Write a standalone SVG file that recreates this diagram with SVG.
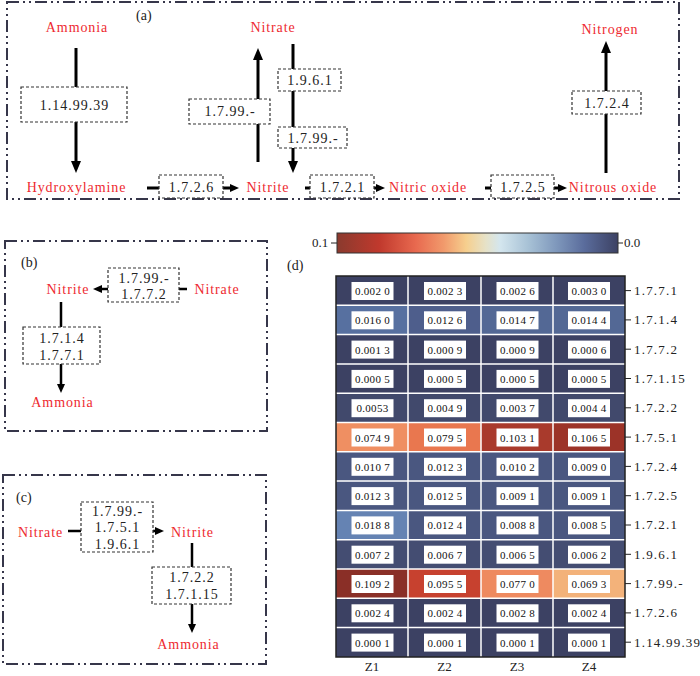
<svg xmlns="http://www.w3.org/2000/svg" width="700" height="676" viewBox="0 0 700 676">
<defs>
<style>
.frame{fill:none;stroke:#36364a;stroke-width:2;stroke-dasharray:12 4 2 4 2 4}
.lbl{font-family:"Liberation Serif","Times New Roman",serif;font-size:14px;fill:#ee2a30;letter-spacing:0.9px;text-anchor:middle}
.ec{font-family:"Liberation Serif","Times New Roman",serif;font-size:14px;fill:#222;letter-spacing:1px;text-anchor:middle}
.eb{fill:#fff;stroke:#333;stroke-width:1.2;stroke-dasharray:3 2}
.pl{font-family:"Liberation Serif","Times New Roman",serif;font-size:14px;fill:#222}
.big{stroke:#000;stroke-width:3;fill:none}
.thin{stroke:#000;stroke-width:2.5;fill:none}
.cv{font-family:"Liberation Serif","Times New Roman",serif;font-size:11px;fill:#111;letter-spacing:0.3px;text-anchor:middle}
.cb{fill:#fff}
.rl{font-family:"Liberation Serif","Times New Roman",serif;font-size:13px;fill:#222;letter-spacing:1.2px}
.grid{stroke:#fff;stroke-width:1.5}
.tk{stroke:#222;stroke-width:1}
</style>
<marker id="ah" viewBox="0 0 12 10" refX="3" refY="5" markerWidth="12" markerHeight="10" markerUnits="userSpaceOnUse" orient="auto"><path d="M0,0 L12,5 L0,10 z" fill="#000"/></marker>
<marker id="as" viewBox="0 0 9 8" refX="2" refY="4" markerWidth="9" markerHeight="8" markerUnits="userSpaceOnUse" orient="auto"><path d="M0,0 L9,4 L0,8 z" fill="#000"/></marker>
<linearGradient id="cmap" x1="0" y1="0" x2="1" y2="0">
<stop offset="0" stop-color="#8a3a2e"/>
<stop offset="0.15" stop-color="#c0392d"/>
<stop offset="0.28" stop-color="#e8694f"/>
<stop offset="0.38" stop-color="#f19a6c"/>
<stop offset="0.46" stop-color="#f6cf8e"/>
<stop offset="0.53" stop-color="#e6e2c8"/>
<stop offset="0.58" stop-color="#d4e6ee"/>
<stop offset="0.68" stop-color="#a8c2d6"/>
<stop offset="0.78" stop-color="#7f98bc"/>
<stop offset="0.88" stop-color="#5a6c9c"/>
<stop offset="1" stop-color="#3c4163"/>
</linearGradient>
</defs>
<rect width="700" height="676" fill="#fff"/>

<!-- frames -->
<rect class="frame" x="7" y="2" width="672" height="197"/>
<rect class="frame" x="5" y="241" width="262" height="190"/>
<rect class="frame" x="3" y="475" width="263" height="189"/>
<text class="pl" x="136" y="20">(a)</text>
<text class="pl" x="21" y="267">(b)</text>
<text class="pl" x="16" y="502">(c)</text>
<text class="pl" x="287" y="270">(d)</text>

<!-- connectors -->
<g id="connectors">
<line class="big" x1="76" y1="48" x2="76" y2="164" marker-end="url(#ah)"/>
<line class="big" x1="258" y1="162" x2="258" y2="57" marker-end="url(#ah)"/>
<line class="big" x1="293" y1="44" x2="293" y2="164" marker-end="url(#ah)"/>
<line class="big" x1="606" y1="173" x2="606" y2="50" marker-end="url(#ah)"/>
<line class="big" x1="147" y1="188" x2="232" y2="188" marker-end="url(#as)"/>
<line class="big" x1="305" y1="188" x2="378" y2="188" marker-end="url(#as)"/>
<line class="big" x1="485" y1="188" x2="560" y2="188" marker-end="url(#as)"/>
<line class="thin" x1="187" y1="289" x2="100" y2="289" marker-end="url(#as)"/>
<line class="thin" x1="61" y1="302" x2="61" y2="386" marker-end="url(#as)"/>
<line class="thin" x1="68" y1="531" x2="157" y2="531" marker-end="url(#as)"/>
<line class="thin" x1="192" y1="543" x2="192" y2="626" marker-end="url(#as)"/>
</g>

<!-- panel a nodes -->
<g id="a-ammonia"><text class="lbl" x="77" y="32">Ammonia</text></g>
<g id="a-hydroxylamine"><text class="lbl" x="76.5" y="192">Hydroxylamine</text></g>
<g id="a-nitrate"><text class="lbl" x="273" y="32">Nitrate</text></g>
<g id="a-nitrite"><text class="lbl" x="268" y="192">Nitrite</text></g>
<g id="a-nitricoxide"><text class="lbl" x="428" y="192">Nitric oxide</text></g>
<g id="a-nitrousoxide"><text class="lbl" x="613" y="192">Nitrous oxide</text></g>
<g id="a-nitrogen"><text class="lbl" x="610" y="34">Nitrogen</text></g>
<g id="a-e1"><rect class="eb" x="21" y="87" width="106" height="35"/><text class="ec" x="74.5" y="110">1.14.99.39</text></g>
<g id="a-e2"><rect class="eb" x="189" y="99" width="81" height="25"/><text class="ec" x="230" y="116">1.7.99.-</text></g>
<g id="a-e3"><rect class="eb" x="278" y="69" width="63" height="22"/><text class="ec" x="310" y="85">1.9.6.1</text></g>
<g id="a-e4"><rect class="eb" x="278" y="127" width="69" height="21"/><text class="ec" x="313" y="143">1.7.99.-</text></g>
<g id="a-e5"><rect class="eb" x="159" y="175" width="64" height="23"/><text class="ec" x="191.5" y="192">1.7.2.6</text></g>
<g id="a-e6"><rect class="eb" x="310" y="175" width="64" height="23"/><text class="ec" x="342.5" y="192">1.7.2.1</text></g>
<g id="a-e7"><rect class="eb" x="491" y="175" width="63" height="23"/><text class="ec" x="523" y="192">1.7.2.5</text></g>
<g id="a-e8"><rect class="eb" x="572" y="91" width="69" height="23"/><text class="ec" x="607" y="108">1.7.2.4</text></g>

<!-- panel b nodes -->
<g id="b-nitrite"><text class="lbl" x="68" y="294">Nitrite</text></g>
<g id="b-nitrate"><text class="lbl" x="217" y="294">Nitrate</text></g>
<g id="b-ammonia"><text class="lbl" x="62.5" y="407">Ammonia</text></g>
<g id="b-e1"><rect class="eb" x="108" y="268" width="71" height="34"/><text class="ec" x="144" y="283">1.7.99.-</text><text class="ec" x="144" y="299">1.7.7.2</text></g>
<g id="b-e2"><rect class="eb" x="23" y="327" width="77" height="37"/><text class="ec" x="62" y="343">1.7.1.4</text><text class="ec" x="62" y="360">1.7.7.1</text></g>

<!-- panel c nodes -->
<g id="c-nitrate"><text class="lbl" x="40.5" y="537">Nitrate</text></g>
<g id="c-nitrite"><text class="lbl" x="192.5" y="537">Nitrite</text></g>
<g id="c-ammonia"><text class="lbl" x="188.5" y="649">Ammonia</text></g>
<g id="c-e1"><rect class="eb" x="81" y="502" width="72" height="50"/><text class="ec" x="117.5" y="516">1.7.99.-</text><text class="ec" x="117.5" y="532">1.7.5.1</text><text class="ec" x="117.5" y="549">1.9.6.1</text></g>
<g id="c-e2"><rect class="eb" x="152" y="567" width="79" height="37"/><text class="ec" x="192" y="582">1.7.2.2</text><text class="ec" x="192" y="599">1.7.1.15</text></g>

<!-- panel d -->
<g id="colorbar">
<rect x="337" y="233" width="281" height="20" fill="url(#cmap)" stroke="#333" stroke-width="1"/>
<line class="tk" x1="331" y1="243" x2="337" y2="243"/>
<line class="tk" x1="618" y1="243" x2="623" y2="243"/>
<text class="pl" x="312" y="247" style="font-size:13px">0.1</text>
<text class="pl" x="624" y="247" style="font-size:13px">0.0</text>
</g>

<g id="heatmap">
<rect x="336" y="276" width="289" height="29.3" fill="#3c4163"/>
<rect x="336" y="305.3" width="72" height="29.3" fill="#5770a0"/>
<rect x="408" y="305.3" width="73" height="29.3" fill="#4e5e8c"/>
<rect x="481" y="305.3" width="144" height="29.3" fill="#536895"/>
<rect x="336" y="334.6" width="289" height="58.6" fill="#3c4163"/>
<rect x="336" y="393.2" width="289" height="29.3" fill="#41496c"/>
<rect x="336" y="422.5" width="72" height="29.3" fill="#ef8f62"/>
<rect x="408" y="422.5" width="73" height="29.3" fill="#e9774f"/>
<rect x="481" y="422.5" width="72" height="29.3" fill="#a93a2c"/>
<rect x="553" y="422.5" width="72" height="29.3" fill="#9c3328"/>
<rect x="336" y="451.8" width="289" height="29.3" fill="#4a5780"/>
<rect x="336" y="481.1" width="289" height="29.3" fill="#4a5780"/>
<rect x="336" y="510.4" width="72" height="29.3" fill="#6583b3"/>
<rect x="408" y="510.4" width="217" height="29.3" fill="#4a5780"/>
<rect x="336" y="539.7" width="289" height="29.3" fill="#444d72"/>
<rect x="336" y="569" width="72" height="29.3" fill="#8a2f27"/>
<rect x="408" y="569" width="73" height="29.3" fill="#c7412f"/>
<rect x="481" y="569" width="72" height="29.3" fill="#ee8a60"/>
<rect x="553" y="569" width="72" height="29.3" fill="#f3b27a"/>
<rect x="336" y="598.3" width="289" height="58.7" fill="#3c4163"/>
<g class="grid">
<line x1="408" y1="276" x2="408" y2="657"/><line x1="481" y1="276" x2="481" y2="657"/><line x1="553" y1="276" x2="553" y2="657"/>
<line x1="336" y1="305.3" x2="625" y2="305.3"/><line x1="336" y1="334.6" x2="625" y2="334.6"/><line x1="336" y1="363.9" x2="625" y2="363.9"/>
<line x1="336" y1="393.2" x2="625" y2="393.2"/><line x1="336" y1="422.5" x2="625" y2="422.5"/><line x1="336" y1="451.8" x2="625" y2="451.8"/>
<line x1="336" y1="481.1" x2="625" y2="481.1"/><line x1="336" y1="510.4" x2="625" y2="510.4"/><line x1="336" y1="539.7" x2="625" y2="539.7"/>
<line x1="336" y1="569" x2="625" y2="569"/><line x1="336" y1="598.3" x2="625" y2="598.3"/><line x1="336" y1="627.6" x2="625" y2="627.6"/>
</g>
<rect x="336" y="276" width="289" height="381" fill="none" stroke="#222" stroke-width="1.5"/>

<g id="cells">
<g class="cb">
<rect x="351.5" y="282" width="42" height="18"/><rect x="424" y="282" width="42" height="18"/><rect x="496.5" y="282" width="42" height="18"/><rect x="568" y="282" width="42" height="18"/>
<rect x="351.5" y="311.3" width="42" height="18"/><rect x="424" y="311.3" width="42" height="18"/><rect x="496.5" y="311.3" width="42" height="18"/><rect x="568" y="311.3" width="42" height="18"/>
<rect x="351.5" y="340.6" width="42" height="18"/><rect x="424" y="340.6" width="42" height="18"/><rect x="496.5" y="340.6" width="42" height="18"/><rect x="568" y="340.6" width="42" height="18"/>
<rect x="351.5" y="369.9" width="42" height="18"/><rect x="424" y="369.9" width="42" height="18"/><rect x="496.5" y="369.9" width="42" height="18"/><rect x="568" y="369.9" width="42" height="18"/>
<rect x="351.5" y="399.2" width="42" height="18"/><rect x="424" y="399.2" width="42" height="18"/><rect x="496.5" y="399.2" width="42" height="18"/><rect x="568" y="399.2" width="42" height="18"/>
<rect x="351.5" y="428.5" width="42" height="18"/><rect x="424" y="428.5" width="42" height="18"/><rect x="496.5" y="428.5" width="42" height="18"/><rect x="568" y="428.5" width="42" height="18"/>
<rect x="351.5" y="457.8" width="42" height="18"/><rect x="424" y="457.8" width="42" height="18"/><rect x="496.5" y="457.8" width="42" height="18"/><rect x="568" y="457.8" width="42" height="18"/>
<rect x="351.5" y="487.1" width="42" height="18"/><rect x="424" y="487.1" width="42" height="18"/><rect x="496.5" y="487.1" width="42" height="18"/><rect x="568" y="487.1" width="42" height="18"/>
<rect x="351.5" y="516.4" width="42" height="18"/><rect x="424" y="516.4" width="42" height="18"/><rect x="496.5" y="516.4" width="42" height="18"/><rect x="568" y="516.4" width="42" height="18"/>
<rect x="351.5" y="545.7" width="42" height="18"/><rect x="424" y="545.7" width="42" height="18"/><rect x="496.5" y="545.7" width="42" height="18"/><rect x="568" y="545.7" width="42" height="18"/>
<rect x="351.5" y="575" width="42" height="18"/><rect x="424" y="575" width="42" height="18"/><rect x="496.5" y="575" width="42" height="18"/><rect x="568" y="575" width="42" height="18"/>
<rect x="351.5" y="604.3" width="42" height="18"/><rect x="424" y="604.3" width="42" height="18"/><rect x="496.5" y="604.3" width="42" height="18"/><rect x="568" y="604.3" width="42" height="18"/>
<rect x="351.5" y="633.6" width="42" height="18"/><rect x="424" y="633.6" width="42" height="18"/><rect x="496.5" y="633.6" width="42" height="18"/><rect x="568" y="633.6" width="42" height="18"/>
</g>
<g class="cv">
<text x="372.5" y="295">0.002 0</text><text x="445" y="295">0.002 3</text><text x="517.5" y="295">0.002 6</text><text x="589" y="295">0.003 0</text>
<text x="372.5" y="324.3">0.016 0</text><text x="445" y="324.3">0.012 6</text><text x="517.5" y="324.3">0.014 7</text><text x="589" y="324.3">0.014 4</text>
<text x="372.5" y="353.6">0.001 3</text><text x="445" y="353.6">0.000 9</text><text x="517.5" y="353.6">0.000 9</text><text x="589" y="353.6">0.000 6</text>
<text x="372.5" y="382.9">0.000 5</text><text x="445" y="382.9">0.000 5</text><text x="517.5" y="382.9">0.000 5</text><text x="589" y="382.9">0.000 5</text>
<text x="372.5" y="412.2">0.0053</text><text x="445" y="412.2">0.004 9</text><text x="517.5" y="412.2">0.003 7</text><text x="589" y="412.2">0.004 4</text>
<text x="372.5" y="441.5">0.074 9</text><text x="445" y="441.5">0.079 5</text><text x="517.5" y="441.5">0.103 1</text><text x="589" y="441.5">0.106 5</text>
<text x="372.5" y="470.8">0.010 7</text><text x="445" y="470.8">0.012 3</text><text x="517.5" y="470.8">0.010 2</text><text x="589" y="470.8">0.009 0</text>
<text x="372.5" y="500.1">0.012 3</text><text x="445" y="500.1">0.012 5</text><text x="517.5" y="500.1">0.009 1</text><text x="589" y="500.1">0.009 1</text>
<text x="372.5" y="529.4">0.018 8</text><text x="445" y="529.4">0.012 4</text><text x="517.5" y="529.4">0.008 8</text><text x="589" y="529.4">0.008 5</text>
<text x="372.5" y="558.7">0.007 2</text><text x="445" y="558.7">0.006 7</text><text x="517.5" y="558.7">0.006 5</text><text x="589" y="558.7">0.006 2</text>
<text x="372.5" y="588">0.109 2</text><text x="445" y="588">0.095 5</text><text x="517.5" y="588">0.077 0</text><text x="589" y="588">0.069 3</text>
<text x="372.5" y="617.3">0.002 4</text><text x="445" y="617.3">0.002 4</text><text x="517.5" y="617.3">0.002 8</text><text x="589" y="617.3">0.002 4</text>
<text x="372.5" y="646.6">0.000 1</text><text x="445" y="646.6">0.000 1</text><text x="517.5" y="646.6">0.000 1</text><text x="589" y="646.6">0.000 1</text>
</g>
</g>

<g id="rowlabels">
<g class="tk">
<line x1="625" y1="290.6" x2="631" y2="290.6"/><line x1="625" y1="319.9" x2="631" y2="319.9"/><line x1="625" y1="349.2" x2="631" y2="349.2"/><line x1="625" y1="378.5" x2="631" y2="378.5"/><line x1="625" y1="407.8" x2="631" y2="407.8"/><line x1="625" y1="437.1" x2="631" y2="437.1"/><line x1="625" y1="466.4" x2="631" y2="466.4"/><line x1="625" y1="495.7" x2="631" y2="495.7"/><line x1="625" y1="525" x2="631" y2="525"/><line x1="625" y1="554.3" x2="631" y2="554.3"/><line x1="625" y1="583.6" x2="631" y2="583.6"/><line x1="625" y1="612.9" x2="631" y2="612.9"/><line x1="625" y1="642.2" x2="631" y2="642.2"/>
</g>
<text class="rl" x="634" y="295">1.7.7.1</text>
<text class="rl" x="634" y="324.3">1.7.1.4</text>
<text class="rl" x="634" y="353.6">1.7.7.2</text>
<text class="rl" x="634" y="382.9">1.7.1.15</text>
<text class="rl" x="634" y="412.2">1.7.2.2</text>
<text class="rl" x="634" y="441.5">1.7.5.1</text>
<text class="rl" x="634" y="470.8">1.7.2.4</text>
<text class="rl" x="634" y="500.1">1.7.2.5</text>
<text class="rl" x="634" y="529.4">1.7.2.1</text>
<text class="rl" x="634" y="558.7">1.9.6.1</text>
<text class="rl" x="634" y="588">1.7.99.-</text>
<text class="rl" x="634" y="617.3">1.7.2.6</text>
<text class="rl" x="634" y="646.6">1.14.99.39</text>
</g>
<g id="collabels" class="pl" style="text-anchor:middle;font-size:13px">
<text x="372" y="671">Z1</text><text x="444.5" y="671">Z2</text><text x="517" y="671">Z3</text><text x="589" y="671">Z4</text>
</g>
</g>
</svg>
